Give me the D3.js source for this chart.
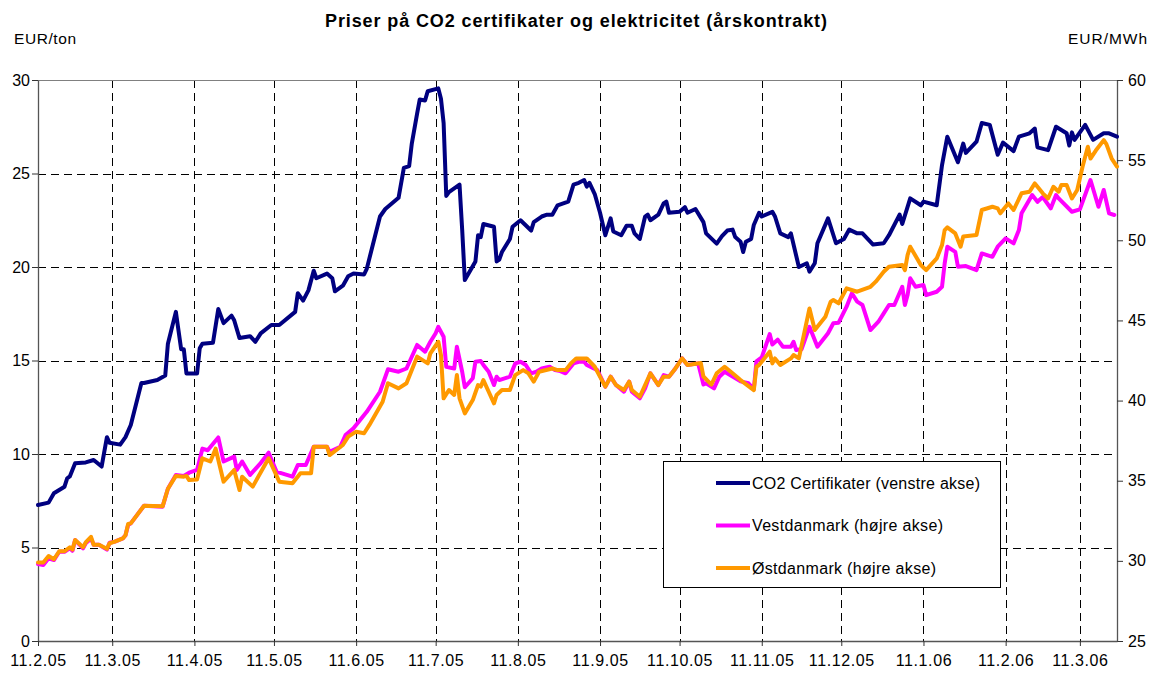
<!DOCTYPE html>
<html><head><meta charset="utf-8">
<script src="https://cdn.jsdelivr.net/npm/d3@7"></script>
<style>body{margin:0;background:#fff} svg{display:block} text{font-family:Arial,"Liberation Sans",sans-serif;fill:#000}</style>
</head><body><svg id="c" width="1153" height="674"></svg>
<script>
const title = "Priser på CO2 certifikater og elektricitet (årskontrakt)";
const leftUnit = "EUR/ton", rightUnit = "EUR/MWh";
const tickDates = ["2005-02-11","2005-03-11","2005-04-11","2005-05-11","2005-06-11","2005-07-11","2005-08-11","2005-09-11","2005-10-11","2005-11-11","2005-12-11","2006-01-11","2006-02-11","2006-03-11"];
const dateDomain = ["2005-02-11","2006-03-25"];
const leftTicks = [0,5,10,15,20,25,30];
const rightTicks = [25,30,35,40,45,50,55,60];
const seriesNames = ["CO2 Certifikater (venstre akse)","Vestdanmark (højre akse)","Østdanmark (højre akse)"];
const seriesColors = ["#000080","#FF00FF","#FF9900"];

const co2Dates = ["2005-02-11","2005-02-15","2005-02-17","2005-02-21","2005-02-22","2005-02-23","2005-02-25","2005-03-01","2005-03-04","2005-03-07","2005-03-09","2005-03-10","2005-03-14","2005-03-16","2005-03-18","2005-03-22","2005-03-23","2005-03-28","2005-03-31","2005-04-01","2005-04-04","2005-04-06","2005-04-07","2005-04-08","2005-04-12","2005-04-13","2005-04-14","2005-04-18","2005-04-20","2005-04-22","2005-04-25","2005-04-26","2005-04-28","2005-05-02","2005-05-04","2005-05-06","2005-05-10","2005-05-13","2005-05-19","2005-05-20","2005-05-22","2005-05-24","2005-05-26","2005-05-27","2005-05-31","2005-06-02","2005-06-03","2005-06-06","2005-06-08","2005-06-10","2005-06-14","2005-06-15","2005-06-20","2005-06-22","2005-06-27","2005-06-29","2005-07-01","2005-07-02","2005-07-04","2005-07-05","2005-07-07","2005-07-08","2005-07-12","2005-07-13","2005-07-14","2005-07-15","2005-07-16","2005-07-20","2005-07-21","2005-07-22","2005-07-26","2005-07-27","2005-07-28","2005-07-29","2005-08-02","2005-08-03","2005-08-04","2005-08-05","2005-08-08","2005-08-09","2005-08-12","2005-08-16","2005-08-17","2005-08-20","2005-08-22","2005-08-24","2005-08-26","2005-08-30","2005-09-01","2005-09-03","2005-09-05","2005-09-06","2005-09-07","2005-09-09","2005-09-11","2005-09-13","2005-09-15","2005-09-16","2005-09-19","2005-09-21","2005-09-23","2005-09-24","2005-09-26","2005-09-28","2005-09-29","2005-09-30","2005-10-03","2005-10-05","2005-10-06","2005-10-07","2005-10-11","2005-10-13","2005-10-14","2005-10-17","2005-10-20","2005-10-21","2005-10-25","2005-10-27","2005-10-29","2005-10-31","2005-11-01","2005-11-03","2005-11-04","2005-11-05","2005-11-07","2005-11-08","2005-11-10","2005-11-11","2005-11-15","2005-11-16","2005-11-18","2005-11-21","2005-11-22","2005-11-25","2005-11-28","2005-11-29","2005-12-01","2005-12-02","2005-12-06","2005-12-09","2005-12-12","2005-12-14","2005-12-17","2005-12-19","2005-12-23","2005-12-27","2005-12-29","2006-01-02","2006-01-03","2006-01-06","2006-01-10","2006-01-11","2006-01-16","2006-01-18","2006-01-20","2006-01-24","2006-01-26","2006-01-27","2006-01-31","2006-02-02","2006-02-05","2006-02-08","2006-02-10","2006-02-14","2006-02-16","2006-02-20","2006-02-22","2006-02-23","2006-02-27","2006-03-02","2006-03-06","2006-03-07","2006-03-08","2006-03-09","2006-03-13","2006-03-16","2006-03-20","2006-03-22","2006-03-25"];
const co2Values = [7.27,7.4,7.9,8.25,8.7,8.8,9.5,9.55,9.68,9.33,10.9,10.6,10.5,10.9,11.55,13.8,13.8,13.96,14.2,15.9,17.6,15.6,15.6,14.3,14.3,15.65,15.9,15.95,17.75,17.0,17.4,17.15,16.2,16.3,16.0,16.45,16.9,16.9,17.6,18.6,18.2,18.75,19.8,19.4,19.65,19.4,18.7,19.0,19.5,19.65,19.6,19.9,22.7,23.1,23.7,25.3,25.4,26.6,28.2,28.96,28.9,29.4,29.55,29.0,27.7,23.8,24.0,24.4,22.0,19.3,20.3,21.7,21.6,22.3,22.15,20.3,20.4,20.8,21.5,22.15,22.5,21.95,22.4,22.7,22.8,22.8,23.3,23.5,24.4,24.5,24.65,24.3,24.5,23.9,22.9,21.7,22.6,21.9,21.7,22.2,22.2,21.8,21.5,22.7,22.8,22.5,22.8,23.4,23.5,22.9,22.95,23.2,22.9,23.1,22.4,21.8,21.25,21.65,21.95,22.0,21.6,21.35,20.8,21.35,21.5,22.25,22.9,22.7,22.95,22.7,21.8,21.6,21.8,20.0,20.2,19.75,20.2,21.27,22.6,21.27,21.5,22.0,21.8,21.8,21.2,21.27,21.7,22.8,22.3,23.67,23.3,23.5,23.3,25.45,26.97,25.6,26.6,26.1,26.7,27.7,27.6,26.0,26.65,26.2,26.97,27.15,27.4,26.4,26.25,27.5,27.15,26.5,27.2,26.8,27.6,26.8,27.15,27.15,26.97];

const vestDates = ["2005-02-11","2005-02-13","2005-02-15","2005-02-17","2005-02-19","2005-02-21","2005-02-23","2005-02-24","2005-02-25","2005-02-28","2005-03-01","2005-03-03","2005-03-04","2005-03-06","2005-03-09","2005-03-10","2005-03-12","2005-03-15","2005-03-16","2005-03-17","2005-03-18","2005-03-23","2005-03-30","2005-04-01","2005-04-04","2005-04-07","2005-04-09","2005-04-12","2005-04-14","2005-04-16","2005-04-20","2005-04-22","2005-04-26","2005-04-27","2005-04-29","2005-05-02","2005-05-06","2005-05-09","2005-05-12","2005-05-14","2005-05-18","2005-05-20","2005-05-23","2005-05-26","2005-05-31","2005-06-01","2005-06-05","2005-06-07","2005-06-10","2005-06-15","2005-06-20","2005-06-23","2005-06-27","2005-06-30","2005-07-04","2005-07-07","2005-07-09","2005-07-11","2005-07-12","2005-07-14","2005-07-15","2005-07-18","2005-07-19","2005-07-21","2005-07-22","2005-07-25","2005-07-26","2005-07-28","2005-07-29","2005-07-31","2005-08-02","2005-08-03","2005-08-04","2005-08-06","2005-08-08","2005-08-10","2005-08-12","2005-08-14","2005-08-16","2005-08-18","2005-08-20","2005-08-23","2005-08-25","2005-08-27","2005-08-29","2005-09-01","2005-09-03","2005-09-05","2005-09-06","2005-09-10","2005-09-13","2005-09-15","2005-09-17","2005-09-20","2005-09-22","2005-09-23","2005-09-26","2005-09-28","2005-09-30","2005-10-03","2005-10-05","2005-10-07","2005-10-09","2005-10-12","2005-10-14","2005-10-18","2005-10-20","2005-10-21","2005-10-24","2005-10-26","2005-10-28","2005-10-31","2005-11-03","2005-11-06","2005-11-08","2005-11-09","2005-11-11","2005-11-14","2005-11-15","2005-11-17","2005-11-19","2005-11-22","2005-11-23","2005-11-24","2005-11-26","2005-11-29","2005-12-02","2005-12-06","2005-12-08","2005-12-10","2005-12-13","2005-12-15","2005-12-17","2005-12-19","2005-12-22","2005-12-25","2005-12-27","2005-12-29","2005-12-31","2006-01-03","2006-01-04","2006-01-05","2006-01-06","2006-01-08","2006-01-11","2006-01-12","2006-01-16","2006-01-18","2006-01-19","2006-01-20","2006-01-23","2006-01-24","2006-01-27","2006-01-31","2006-02-02","2006-02-06","2006-02-08","2006-02-11","2006-02-14","2006-02-16","2006-02-17","2006-02-21","2006-02-23","2006-02-25","2006-02-28","2006-03-02","2006-03-03","2006-03-08","2006-03-11","2006-03-15","2006-03-18","2006-03-20","2006-03-22","2006-03-24"];
const vestValues = [29.8,29.74,30.16,30.05,30.57,30.57,30.78,30.63,31.3,30.78,31.1,31.4,31.0,31.0,30.7,31.13,31.2,31.4,31.6,32.24,32.34,33.44,33.38,34.5,35.36,35.3,35.5,35.67,37.0,36.9,37.7,36.2,36.5,35.67,36.2,35.36,36.1,36.75,35.56,35.46,35.25,35.98,35.98,37.12,37.12,36.81,37.12,37.85,38.27,39.3,40.55,41.95,41.8,42.0,43.47,43.05,43.67,44.2,44.6,43.98,42.1,42.0,43.36,41.8,40.83,41.39,42.42,42.47,42.22,41.8,40.97,41.49,41.28,41.39,41.49,42.32,42.42,42.22,41.7,41.8,42.0,42.11,41.9,41.84,41.7,42.32,42.42,42.42,42.22,41.9,40.87,41.49,40.97,40.55,41.18,40.55,40.14,40.76,41.7,40.97,41.59,41.49,41.9,42.63,42.22,42.32,41.0,41.08,40.76,41.49,41.8,41.5,41.2,41.08,40.7,42.45,42.7,44.15,43.5,43.8,43.36,43.36,43.67,43.15,43.2,44.6,43.36,44.2,44.82,44.86,45.86,46.69,46.17,45.96,44.4,44.92,45.44,45.96,45.96,47.1,45.96,46.58,47.63,47.1,47.21,46.58,46.79,47.1,48.56,49.6,49.28,48.35,48.39,48.14,49.18,48.97,49.6,50.12,49.81,50.64,51.68,52.82,52.4,52.7,51.99,52.82,52.61,51.78,51.93,53.76,52.09,53.14,51.68,51.58];

const oestDates = ["2005-02-11","2005-02-13","2005-02-15","2005-02-17","2005-02-19","2005-02-21","2005-02-23","2005-02-24","2005-02-25","2005-02-28","2005-03-01","2005-03-03","2005-03-04","2005-03-06","2005-03-09","2005-03-10","2005-03-12","2005-03-15","2005-03-16","2005-03-17","2005-03-18","2005-03-23","2005-03-30","2005-04-01","2005-04-04","2005-04-07","2005-04-08","2005-04-09","2005-04-12","2005-04-14","2005-04-17","2005-04-19","2005-04-22","2005-04-26","2005-04-28","2005-04-29","2005-05-03","2005-05-09","2005-05-13","2005-05-18","2005-05-21","2005-05-25","2005-05-26","2005-05-31","2005-06-01","2005-06-06","2005-06-08","2005-06-11","2005-06-14","2005-06-16","2005-06-21","2005-06-23","2005-06-27","2005-06-30","2005-07-04","2005-07-08","2005-07-09","2005-07-12","2005-07-13","2005-07-14","2005-07-16","2005-07-18","2005-07-19","2005-07-20","2005-07-22","2005-07-25","2005-07-27","2005-07-28","2005-07-29","2005-07-31","2005-08-02","2005-08-03","2005-08-05","2005-08-08","2005-08-10","2005-08-13","2005-08-15","2005-08-17","2005-08-19","2005-08-24","2005-08-26","2005-08-29","2005-08-31","2005-09-02","2005-09-06","2005-09-09","2005-09-13","2005-09-15","2005-09-17","2005-09-20","2005-09-22","2005-09-23","2005-09-26","2005-09-30","2005-10-03","2005-10-05","2005-10-07","2005-10-09","2005-10-12","2005-10-14","2005-10-19","2005-10-20","2005-10-23","2005-10-25","2005-10-28","2005-10-31","2005-11-03","2005-11-08","2005-11-09","2005-11-10","2005-11-14","2005-11-15","2005-11-16","2005-11-18","2005-11-22","2005-11-23","2005-11-25","2005-11-29","2005-12-01","2005-12-05","2005-12-07","2005-12-08","2005-12-10","2005-12-13","2005-12-17","2005-12-22","2005-12-24","2005-12-27","2005-12-29","2006-01-03","2006-01-04","2006-01-05","2006-01-06","2006-01-10","2006-01-12","2006-01-16","2006-01-18","2006-01-19","2006-01-20","2006-01-23","2006-01-25","2006-01-26","2006-01-31","2006-02-02","2006-02-06","2006-02-08","2006-02-09","2006-02-12","2006-02-14","2006-02-17","2006-02-20","2006-02-22","2006-02-25","2006-02-27","2006-03-01","2006-03-03","2006-03-04","2006-03-06","2006-03-08","2006-03-10","2006-03-12","2006-03-14","2006-03-15","2006-03-17","2006-03-20","2006-03-21","2006-03-23","2006-03-25"];
const oestValues = [29.9,29.9,30.3,30.1,30.6,30.6,30.85,30.7,31.3,30.85,31.15,31.5,31.0,31.0,30.75,31.1,31.2,31.4,31.6,32.3,32.34,33.44,33.4,34.5,35.3,35.25,35.3,35.04,35.08,36.4,36.2,37.0,34.94,35.67,34.42,35.25,34.63,36.4,34.94,34.84,35.46,35.46,37.12,37.12,36.6,37.23,37.75,38.06,37.96,38.48,39.93,41.08,40.76,41.08,42.74,42.32,42.95,43.67,42.84,40.14,40.66,40.35,41.59,40.14,39.2,40.03,40.97,40.87,41.28,40.55,39.83,40.35,40.66,40.66,41.59,41.9,41.7,41.18,41.8,42.0,41.9,41.9,42.32,42.63,42.63,42.11,40.87,41.49,40.97,40.66,41.18,40.66,40.24,41.7,40.97,41.49,41.49,41.9,42.63,42.22,42.35,41.5,41.0,41.7,42.11,41.7,41.28,40.65,42.11,42.22,43.05,42.32,42.63,42.22,42.63,42.84,42.63,45.75,44.4,45.23,46.17,46.27,46.07,47.0,46.79,47.1,47.42,48.04,48.35,48.46,48.14,49.08,49.6,48.46,48.14,48.87,49.7,50.64,50.81,50.43,49.6,50.23,50.33,51.89,52.09,51.99,51.68,52.3,51.89,52.93,53.03,53.55,52.93,52.61,53.34,53.03,53.45,53.45,52.61,53.14,54.59,55.84,55.1,55.6,56.25,56.0,55.1,54.6];

const parse = d3.timeParse("%Y-%m-%d");
const fmt = d => `${d.getDate()}.${d.getMonth()+1}.${String(d.getFullYear()).slice(2)}`;
const M = {l:38, r:1117, t:80, b:641};
const svg = d3.select("#c");
const x = d3.scaleTime().domain(dateDomain.map(parse)).range([M.l, M.r]);
const yL = d3.scaleLinear().domain([0,30]).range([M.b, M.t]);
const yR = d3.scaleLinear().domain([25,60]).range([M.b, M.t]);
const ticks = tickDates.map(parse);

// gridlines
const grid = svg.append("g").attr("stroke","#000").attr("stroke-width",1).attr("stroke-dasharray","8,5").attr("shape-rendering","crispEdges");
grid.selectAll(".h").data(leftTicks.filter(v => v>0 && v<30)).join("line")
  .attr("x1",M.l).attr("x2",M.r).attr("y1",d=>Math.round(yL(d))+0.5).attr("y2",d=>Math.round(yL(d))+0.5);
grid.selectAll(".v").data(ticks.slice(1)).join("line")
  .attr("y1",M.t).attr("y2",M.b).attr("x1",d=>Math.round(x(d))+0.5).attr("x2",d=>Math.round(x(d))+0.5);

// frame
svg.append("line").attr("x1",M.l).attr("x2",M.r).attr("y1",M.t+0.5).attr("y2",M.t+0.5).attr("stroke","#808080");

// axes
function styleAxis(g){ g.selectAll("path").attr("stroke","#555").attr("stroke-width",1.3);
  g.selectAll("line").attr("stroke","#333");
  g.selectAll("text").attr("font-size","16px").attr("font-family","Arial, 'Liberation Sans', sans-serif").attr("fill","#000"); }
svg.append("g").attr("transform",`translate(${M.l},0)`)
  .call(d3.axisLeft(yL).tickValues(leftTicks).tickSize(6).tickSizeOuter(0).tickPadding(2).tickFormat(d3.format("d")))
  .call(styleAxis);
svg.append("g").attr("transform",`translate(${M.r},0)`)
  .call(d3.axisRight(yR).tickValues(rightTicks).tickSize(6).tickSizeOuter(0).tickPadding(5).tickFormat(d3.format("d")))
  .call(styleAxis);
svg.append("g").attr("transform",`translate(0,${M.b})`)
  .call(d3.axisBottom(x).tickValues(ticks).tickSize(5).tickSizeOuter(0).tickPadding(9).tickFormat(fmt))
  .call(styleAxis)
  .call(g => g.selectAll("text").attr("letter-spacing","0.6px"));

// series
const series = [
  {dates:co2Dates, values:co2Values, y:yL},
  {dates:vestDates, values:vestValues, y:yR},
  {dates:oestDates, values:oestValues, y:yR}
];
series.forEach((s,i) => {
  const pts = s.dates.map((d,j) => [parse(d), s.values[j]]);
  svg.append("path").datum(pts)
    .attr("fill","none").attr("stroke",seriesColors[i]).attr("stroke-width",4)
    .attr("stroke-linejoin","round").attr("stroke-linecap","round")
    .attr("d", d3.line().x(p=>x(p[0])).y(p=>s.y(p[1])));
});

// titles
svg.append("text").attr("x",576).attr("y",27).attr("text-anchor","middle").attr("font-size","18px").attr("font-weight","bold")
  .attr("textLength",502).attr("lengthAdjust","spacing").text(title);
svg.append("text").attr("x",14).attr("y",44).attr("font-size","15.5px").attr("textLength",62).attr("lengthAdjust","spacing").text(leftUnit);
svg.append("text").attr("x",1068).attr("y",44).attr("font-size","15.5px").attr("textLength",79).attr("lengthAdjust","spacing").text(rightUnit);

// legend
const lg = svg.append("g");
lg.append("rect").attr("x",663.5).attr("y",461.5).attr("width",337).attr("height",126).attr("fill","#fff").attr("stroke","#000");
const rows = [483, 525.5, 568];
const legendWidths = [228, 191, 184];
seriesNames.forEach((n,i) => {
  lg.append("line").attr("x1",716).attr("x2",750).attr("y1",rows[i]).attr("y2",rows[i]).attr("stroke",seriesColors[i]).attr("stroke-width",4);
  lg.append("text").attr("x",752).attr("y",rows[i]).attr("dy","0.35em").attr("font-size","16px")
    .attr("textLength",legendWidths[i]).attr("lengthAdjust","spacing").text(n);
});
</script></body></html>
